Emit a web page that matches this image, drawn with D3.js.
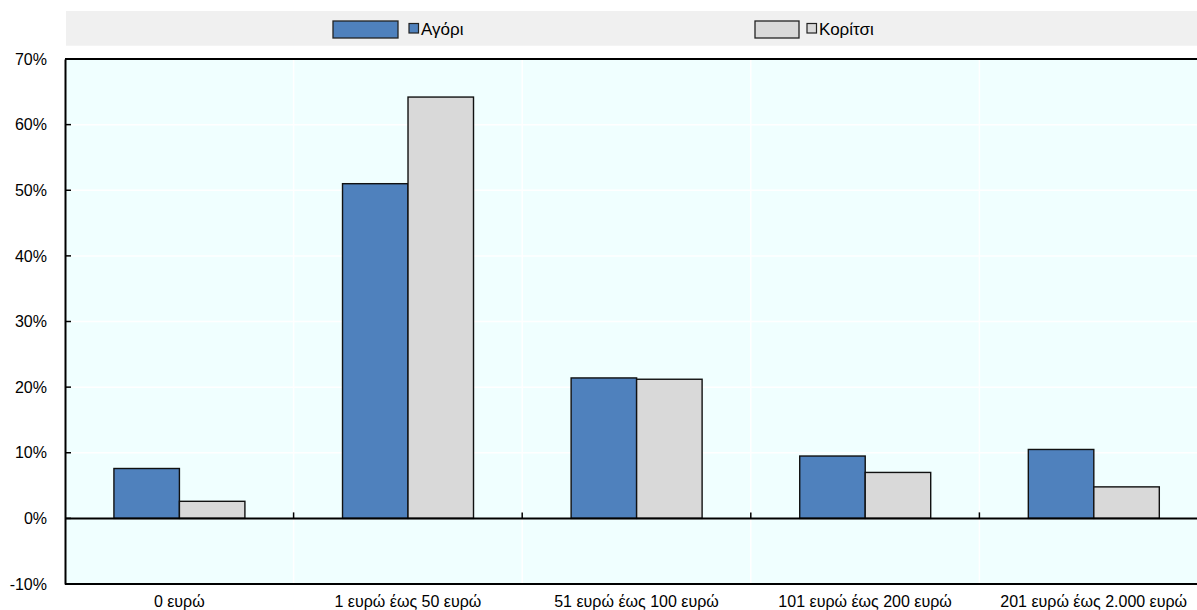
<!DOCTYPE html>
<html>
<head>
<meta charset="utf-8">
<script src="https://cdn.jsdelivr.net/npm/d3@7"></script>
<style>
  html, body { margin: 0; padding: 0; background: #fff; overflow: hidden; }
  svg { display: block; font-family: "Liberation Sans", Arial, sans-serif; }
</style>
</head>
<body>
<svg id="chart" width="1197" height="610"></svg>
<script>
// Pocket-money ranges and the share of boys / girls in each
const categories = ["0 ευρώ", "1 ευρώ έως 50 ευρώ", "51 ευρώ έως 100 ευρώ", "101 ευρώ έως 200 ευρώ", "201 ευρώ έως 2.000 ευρώ"];
const seriesNames = ["Αγόρι", "Κορίτσι"];
const boys  = [7.6, 51.0, 21.4, 9.5, 10.5];
const girls = [2.6, 64.2, 21.2, 7.0, 4.8];
const yTicks = [-10, 0, 10, 20, 30, 40, 50, 60, 70];
const colors = ["#4f81bd", "#d9d9d9"];

const rows = categories.map((c, i) => ({ cat: c, values: [boys[i], girls[i]] }));

const svg = d3.select("#chart");
const plot = { left: 65, right: 1208, top: 59, bottom: 584 };

const x = d3.scaleBand().domain(categories).range([plot.left, plot.right]).padding(0);
const bw = x.bandwidth();
const xs = d3.scaleBand().domain(seriesNames).range([bw * 0.214, bw * 0.787]).padding(0);
const y = d3.scaleLinear().domain([-10, 70]).range([plot.bottom, plot.top]);

// legend strip
svg.append("rect").attr("x", 66).attr("y", 11).attr("width", 1197 - 66).attr("height", 34.7)
  .attr("fill", "#f0f0f0");

const legendItems = [
  { name: seriesNames[0], color: colors[0], bx: 333, bw: 65, sx: 409, tx: 421 },
  { name: seriesNames[1], color: colors[1], bx: 755, bw: 44, sx: 807, tx: 819 }
];
legendItems.forEach(d => {
  svg.append("rect").attr("x", d.bx).attr("y", 21).attr("width", d.bw).attr("height", 17)
    .attr("fill", d.color).attr("stroke", "#222").attr("stroke-width", 1.3);
  svg.append("rect").attr("x", d.sx).attr("y", 23.5).attr("width", 9.5).attr("height", 9.5)
    .attr("fill", d.color).attr("stroke", "#222").attr("stroke-width", 1.2);
  svg.append("text").attr("x", d.tx).attr("y", 34.5).attr("font-size", 17).attr("fill", "#000")
    .text(d.name);
});

// plot background
svg.append("rect").attr("x", plot.left).attr("y", plot.top)
  .attr("width", plot.right - plot.left).attr("height", plot.bottom - plot.top)
  .attr("fill", "#f0ffff");

// white gridlines
svg.append("g").selectAll("line").data(yTicks.filter(t => t > -10 && t < 70)).join("line")
  .attr("x1", plot.left).attr("x2", plot.right)
  .attr("y1", d => y(d)).attr("y2", d => y(d))
  .attr("stroke", "#fff").attr("stroke-width", 1.5);
svg.append("g").selectAll("line").data(categories.slice(1)).join("line")
  .attr("x1", d => x(d)).attr("x2", d => x(d))
  .attr("y1", plot.top).attr("y2", plot.bottom)
  .attr("stroke", "#fff").attr("stroke-width", 1.5);

// bars
const groups = svg.append("g").selectAll("g").data(rows).join("g")
  .attr("transform", d => `translate(${x(d.cat)},0)`);
groups.selectAll("rect").data(d => d.values.map((v, k) => ({ v, k }))).join("rect")
  .attr("x", d => xs(seriesNames[d.k]))
  .attr("width", xs.bandwidth())
  .attr("y", d => y(Math.max(0, d.v)))
  .attr("height", d => Math.abs(y(d.v) - y(0)))
  .attr("fill", d => colors[d.k])
  .attr("stroke", "#111").attr("stroke-width", 1.4);

// zero line with category ticks
svg.append("line").attr("x1", plot.left).attr("x2", plot.right)
  .attr("y1", y(0)).attr("y2", y(0)).attr("stroke", "#000").attr("stroke-width", 2);
svg.append("g").selectAll("line").data(categories.slice(1)).join("line")
  .attr("x1", d => x(d)).attr("x2", d => x(d))
  .attr("y1", y(0)).attr("y2", y(0) - 6)
  .attr("stroke", "#000").attr("stroke-width", 1.5);

// frame: top and bottom borders
svg.append("line").attr("x1", plot.left).attr("x2", plot.right)
  .attr("y1", plot.top).attr("y2", plot.top).attr("stroke", "#000").attr("stroke-width", 2.2);
svg.append("line").attr("x1", plot.left).attr("x2", plot.right)
  .attr("y1", plot.bottom).attr("y2", plot.bottom).attr("stroke", "#000").attr("stroke-width", 2);

// y axis
const yAxis = d3.axisLeft(y).tickValues(yTicks).tickSize(0).tickPadding(18)
  .tickFormat(d => d + "%");
const ya = svg.append("g").attr("transform", `translate(${plot.left},0)`).call(yAxis);
ya.select(".domain").attr("stroke", "#000").attr("stroke-width", 2);
ya.selectAll("text").attr("font-size", 16).attr("fill", "#000")
  .attr("font-family", "'Liberation Sans', Arial, sans-serif");
svg.append("g").selectAll("line").data(yTicks.filter(t => t > -10 && t < 70)).join("line")
  .attr("x1", plot.left).attr("x2", plot.left + 6)
  .attr("y1", d => y(d)).attr("y2", d => y(d))
  .attr("stroke", "#000").attr("stroke-width", 1.5);

// category labels
const xAxis = d3.axisBottom(x).tickSize(0).tickPadding(12);
const xa = svg.append("g").attr("transform", `translate(0,${plot.bottom})`).call(xAxis);
xa.select(".domain").remove();
xa.selectAll("text").attr("font-size", 16).attr("fill", "#000")
  .attr("font-family", "'Liberation Sans', Arial, sans-serif");
</script>
</body>
</html>
